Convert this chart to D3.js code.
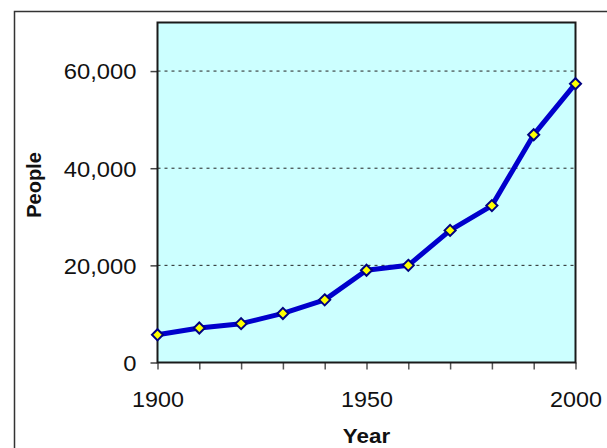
<!DOCTYPE html>
<html>
<head>
<meta charset="utf-8">
<script src="https://cdn.jsdelivr.net/npm/d3@7"></script>
<style>
  html, body { margin: 0; padding: 0; background: #fff; }
  svg { display: block; font-family: "Liberation Sans", Arial, sans-serif; }
</style>
</head>
<body>
<svg id="chart" width="607" height="448"></svg>
<script>
// Population by census year
const years = [1900, 1910, 1920, 1930, 1940, 1950, 1960, 1970, 1980, 1990, 2000];
const people = [5700, 7100, 8000, 10100, 12900, 19000, 20000, 27200, 32300, 46900, 57400];
const yTickValues = [0, 20000, 40000, 60000];
const xLabelYears = [1900, 1950, 2000];

const svg = d3.select("#chart");
const plot = { left: 157.5, top: 22.5, right: 575.5, bottom: 362.5 };

// Outer chart frame (runs off the right and bottom edges)
svg.append("rect")
  .attr("x", 14.5).attr("y", 11.5)
  .attr("width", 620).attr("height", 460)
  .attr("fill", "#fff")
  .attr("stroke", "#333").attr("stroke-width", 1.5);

const x = d3.scaleLinear().domain([1900, 2000]).range([plot.left, plot.right]);
const y = d3.scaleLinear().domain([0, 70000]).range([plot.bottom, plot.top]);

// Plot area background
svg.append("rect")
  .attr("x", plot.left).attr("y", plot.top)
  .attr("width", plot.right - plot.left).attr("height", plot.bottom - plot.top)
  .attr("fill", "#ccffff");

// Dotted horizontal gridlines
svg.append("g")
  .selectAll("line")
  .data(yTickValues.filter(v => v > 0))
  .join("line")
  .attr("x1", plot.left).attr("x2", plot.right)
  .attr("y1", d => y(d)).attr("y2", d => y(d))
  .attr("stroke", "#222").attr("stroke-width", 1)
  .attr("stroke-dasharray", "3,4");

// Widen glyphs horizontally to the chart's stretched lettering
function stretch(sel, k) {
  sel.each(function () {
    const w = this.getComputedTextLength();
    d3.select(this).attr("textLength", w * k).attr("lengthAdjust", "spacingAndGlyphs");
  });
}

// Y axis
const yAxis = svg.append("g")
  .attr("transform", `translate(${plot.left},0)`)
  .call(d3.axisLeft(y).tickValues(yTickValues).tickSize(7).tickPadding(14)
    .tickFormat(d3.format(",")));
yAxis.select(".domain").remove();
yAxis.selectAll(".tick line").attr("stroke", "#444").attr("stroke-width", 1.5);
yAxis.selectAll(".tick text")
  .attr("font-size", 22).attr("fill", "#111")
  .attr("font-family", "Liberation Sans, Arial, sans-serif")
  .attr("dy", "0.36em")
  .call(stretch, 1.08);

// X axis: ticks every decade, labels every half century
const xAxis = svg.append("g")
  .attr("transform", `translate(0,${plot.bottom})`)
  .call(d3.axisBottom(x).tickValues(years).tickSize(7).tickPadding(0)
    .tickFormat(d => xLabelYears.includes(d) ? String(d) : ""));
xAxis.select(".domain").remove();
xAxis.selectAll(".tick line").attr("stroke", "#555").attr("stroke-width", 1.5);
xAxis.selectAll(".tick text")
  .attr("font-size", 22).attr("fill", "#111")
  .attr("font-family", "Liberation Sans, Arial, sans-serif")
  .attr("y", 44).attr("dy", 0)
  .filter(d => xLabelYears.includes(d))
  .call(stretch, 1.06);

// Plot area border
svg.append("rect")
  .attr("x", plot.left).attr("y", plot.top)
  .attr("width", plot.right - plot.left).attr("height", plot.bottom - plot.top)
  .attr("fill", "none")
  .attr("stroke", "#1a1a1a").attr("stroke-width", 2);

// Data line
const line = d3.line().x((d, i) => x(years[i])).y(d => y(d));
svg.append("path")
  .datum(people)
  .attr("d", line)
  .attr("fill", "none")
  .attr("stroke", "#0000cc")
  .attr("stroke-width", 5)
  .attr("stroke-linejoin", "round");

// Diamond markers
const diamond = d3.symbol().type(d3.symbolDiamond2).size(78);
svg.append("g")
  .selectAll("path")
  .data(people)
  .join("path")
  .attr("transform", (d, i) => `translate(${x(years[i])},${y(d)})`)
  .attr("d", diamond)
  .attr("fill", "#ffff00")
  .attr("stroke", "#000080")
  .attr("stroke-width", 2);

// Axis titles
svg.append("text")
  .attr("x", (plot.left + plot.right) / 2).attr("y", 443)
  .attr("text-anchor", "middle")
  .attr("font-size", 20).attr("font-weight", "bold").attr("fill", "#111")
  .text("Year")
  .call(stretch, 1.12);

svg.append("text")
  .attr("transform", `translate(41,185) rotate(-90)`)
  .attr("text-anchor", "middle")
  .attr("font-size", 20).attr("font-weight", "bold").attr("fill", "#111")
  .text("People");
</script>
</body>
</html>
